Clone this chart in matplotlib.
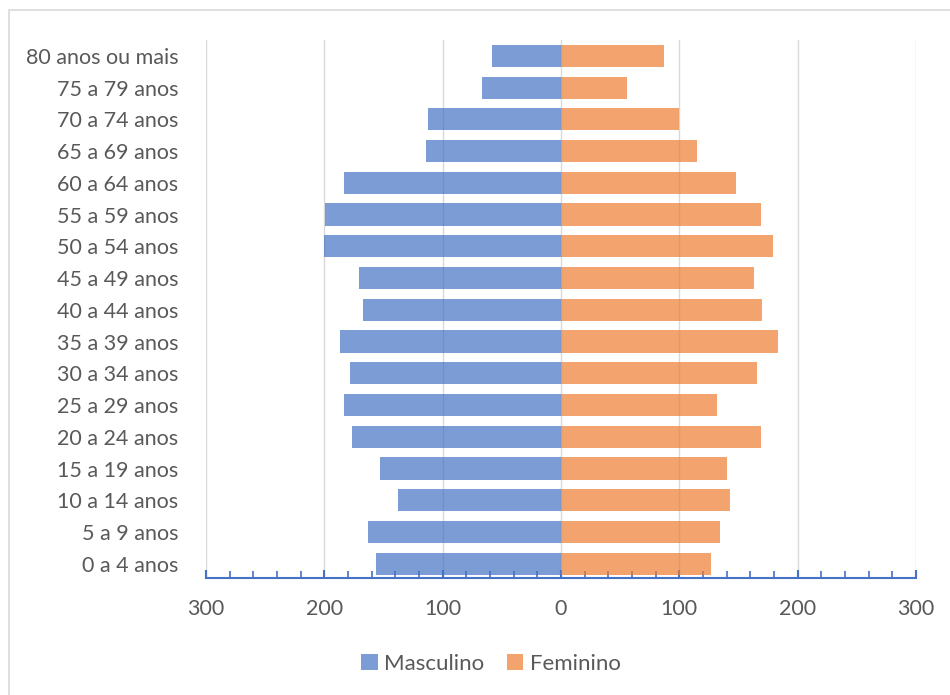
import matplotlib.pyplot as plt
from matplotlib.patches import Rectangle
from matplotlib.ticker import MultipleLocator, FuncFormatter

# faixas etarias (de baixo para cima)
faixas = ['0 a 4 anos', '5 a 9 anos', '10 a 14 anos', '15 a 19 anos',
          '20 a 24 anos', '25 a 29 anos', '30 a 34 anos', '35 a 39 anos',
          '40 a 44 anos', '45 a 49 anos', '50 a 54 anos', '55 a 59 anos',
          '60 a 64 anos', '65 a 69 anos', '70 a 74 anos', '75 a 79 anos',
          '80 anos ou mais']
masculino = [156, 163, 138, 153, 177, 183, 178, 187, 167, 171, 200, 199,
             183, 114, 112, 67, 58]
feminino = [127, 134, 143, 140, 169, 132, 166, 183, 170, 163, 179, 169,
            148, 115, 100, 56, 87]

plt.rcParams['font.family'] = ['Lato', 'DejaVu Sans']
cor_texto = '#595959'

fig = plt.figure(figsize=(9.5, 6.95), dpi=100)
ax = fig.add_axes([0.2168, 0.1683, 0.7474, 0.7741])

# moldura do grafico
fig.patches.append(Rectangle((9 / 950, -0.01), 1.0, 1 - 10 / 695 + 0.01,
                             transform=fig.transFigure, fill=False,
                             edgecolor='#D9D9D9', linewidth=1.2))

y = range(len(faixas))
ax.barh(y, [-m for m in masculino], height=0.7, color='#4472C4', alpha=0.7,
        label='Masculino', zorder=3)
ax.barh(y, feminino, height=0.7, color='#ED7D31', alpha=0.7,
        label='Feminino', zorder=3)

ax.set_xlim(-300, 300)
ax.set_ylim(-0.45, 16.5)
ax.set_yticks(list(y))
ax.set_yticklabels(faixas)

ax.xaxis.set_major_locator(MultipleLocator(100))
ax.xaxis.set_minor_locator(MultipleLocator(20))
ax.xaxis.set_major_formatter(FuncFormatter(lambda v, p: f'{abs(int(v))}'))
ax.grid(axis='x', color='#D9D9D9', linewidth=1, zorder=0)

for s in ['top', 'right', 'left']:
    ax.spines[s].set_visible(False)
ax.spines['bottom'].set_color('#4472C4')
ax.spines['bottom'].set_linewidth(1.5)
ax.spines['bottom'].set_zorder(4)

ax.tick_params(axis='x', which='both', direction='in', color='#4472C4',
               labelcolor=cor_texto, labelsize=15.5, pad=15)
ax.tick_params(axis='x', which='major', length=6, width=1.5)
ax.tick_params(axis='x', which='minor', length=5, width=1.2)
ax.tick_params(axis='y', length=0, labelcolor=cor_texto, labelsize=15.5, pad=20)

fig.legend(loc='center', bbox_to_anchor=(491 / 950, 1 - 664 / 695), ncol=2,
           frameon=False, fontsize=16, labelcolor=cor_texto, handlelength=0.75,
           handleheight=0.75, handletextpad=0.3, columnspacing=1.0)

fig.savefig('out.png', dpi=100)
